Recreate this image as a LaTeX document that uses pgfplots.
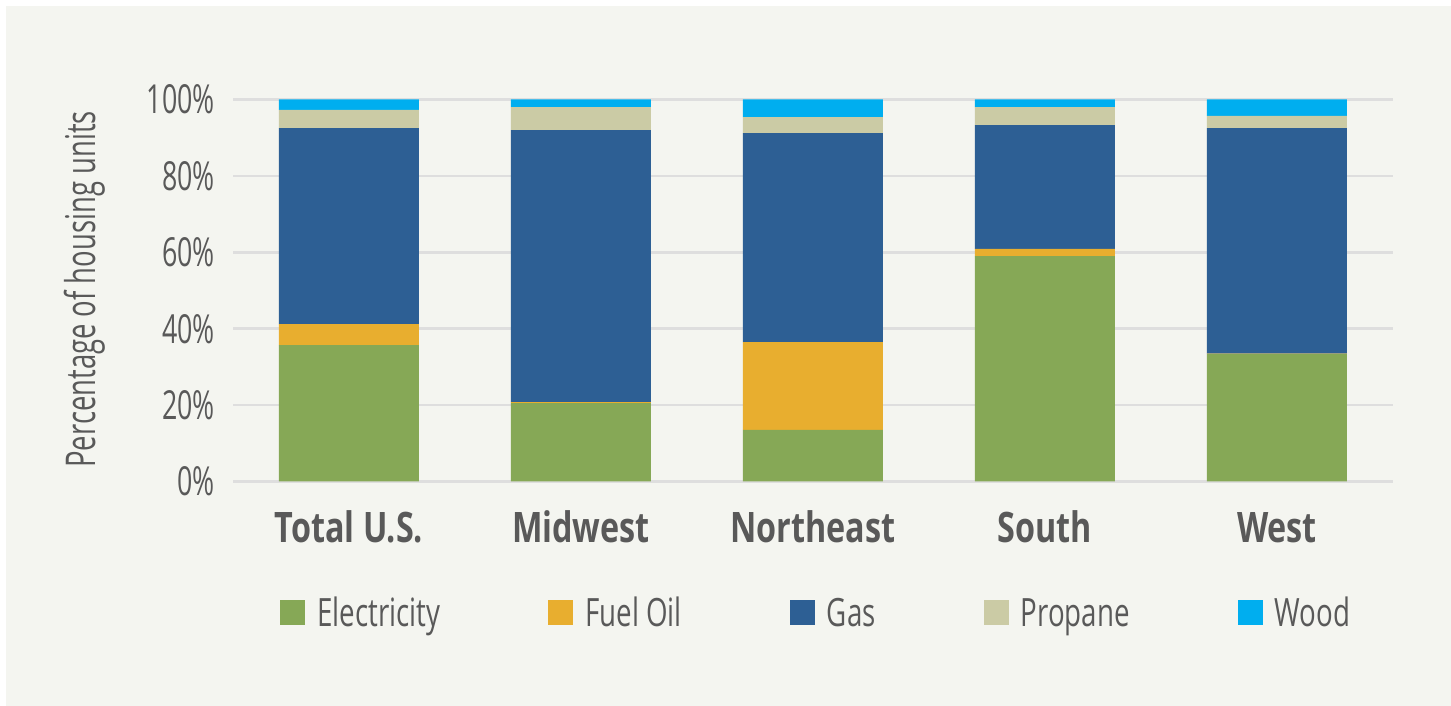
\documentclass[border=0pt]{standalone}
\usepackage{fontspec}
\setmainfont{Open Sans}[FakeStretch=0.67]
\newfontfamily\catfont{Open Sans}[FakeStretch=0.77]
\newfontfamily\legfont{Open Sans}[FakeStretch=0.71]
\usepackage{pgfplots}
\pgfplotsset{compat=1.18}
\definecolor{celec}{HTML}{86A856}
\definecolor{cfuel}{HTML}{E8AE2F}
\definecolor{cgas}{HTML}{2D5F94}
\definecolor{cprop}{HTML}{CBCBA5}
\definecolor{cwood}{HTML}{00AEEF}
\definecolor{cbg}{HTML}{F4F5F0}
\definecolor{ctext}{HTML}{595959}
\definecolor{cgrid}{HTML}{DEDEDE}
\begin{document}
\begin{tikzpicture}
\useasboundingbox (0,0) rectangle (1451pt,706pt);
\fill[white] (0,0) rectangle (1451pt,706pt);
\fill[cbg] (6pt,0) rectangle (1451pt,700pt);
\begin{axis}[
  at={(233pt,224.5pt)}, anchor=south west,
  scale only axis, width=1160pt, height=382pt,
  ybar stacked, bar width=140pt,
  xmin=-0.5, xmax=4.5, ymin=0, ymax=100,
  xtick={0,1,2,3,4},
  xticklabels={Total U.S.,Midwest,Northeast,South,West},
  ytick={0,20,40,60,80,100},
  yticklabels={0\%,20\%,40\%,60\%,80\%,100\%},
  axis line style={draw=none},
  major tick length=0pt,
  ymajorgrids, major grid style={draw=cgrid, line width=2.5pt},
  xticklabel style={anchor=base, yshift=-61.5pt, font=\catfont\bfseries\fontsize{42}{50}\selectfont, text=ctext},
  yticklabel style={anchor=east, inner sep=0pt, xshift=-18pt, font=\fontsize{40}{48}\selectfont, text=ctext},
  ylabel={Percentage of housing units},
  ylabel style={at={(axis description cs:-0.128,0.503)}, anchor=center, font=\fontsize{41}{48}\selectfont, text=ctext},
  legend columns=5,
  legend image code/.code={\fill[#1] (0pt,-12.5pt) rectangle (25pt,12.5pt);},
  legend style={at={(axis description cs:0.0405,-0.344)}, anchor=west, draw=none, fill=none, inner sep=0pt,
    font=\legfont\fontsize{39}{46}\selectfont, text=ctext,
    nodes={inner sep=0pt},
    /tikz/every odd column/.style={column sep=12pt},
    /tikz/every even column/.style={column sep=108pt}},
  legend cell align=left,
]
\addplot[fill=celec, draw=none] coordinates {(0,35.7) (1,20.5) (2,13.5) (3,59.0) (4,33.4)};
\addplot[fill=cfuel, draw=none] coordinates {(0,5.5) (1,0.3) (2,23.0) (3,1.9) (4,0.1)};
\addplot[fill=cgas, draw=none] coordinates {(0,51.3) (1,71.2) (2,54.7) (3,32.4) (4,59.0)};
\addplot[fill=cprop, draw=none] coordinates {(0,4.75) (1,6.0) (2,4.2) (3,4.7) (4,3.2)};
\addplot[fill=cwood, draw=none] coordinates {(0,2.75) (1,2.0) (2,4.6) (3,2.0) (4,4.3)};
\legend{Electricity,Fuel Oil,Gas,Propane,Wood}
\end{axis}
\end{tikzpicture}
\end{document}
